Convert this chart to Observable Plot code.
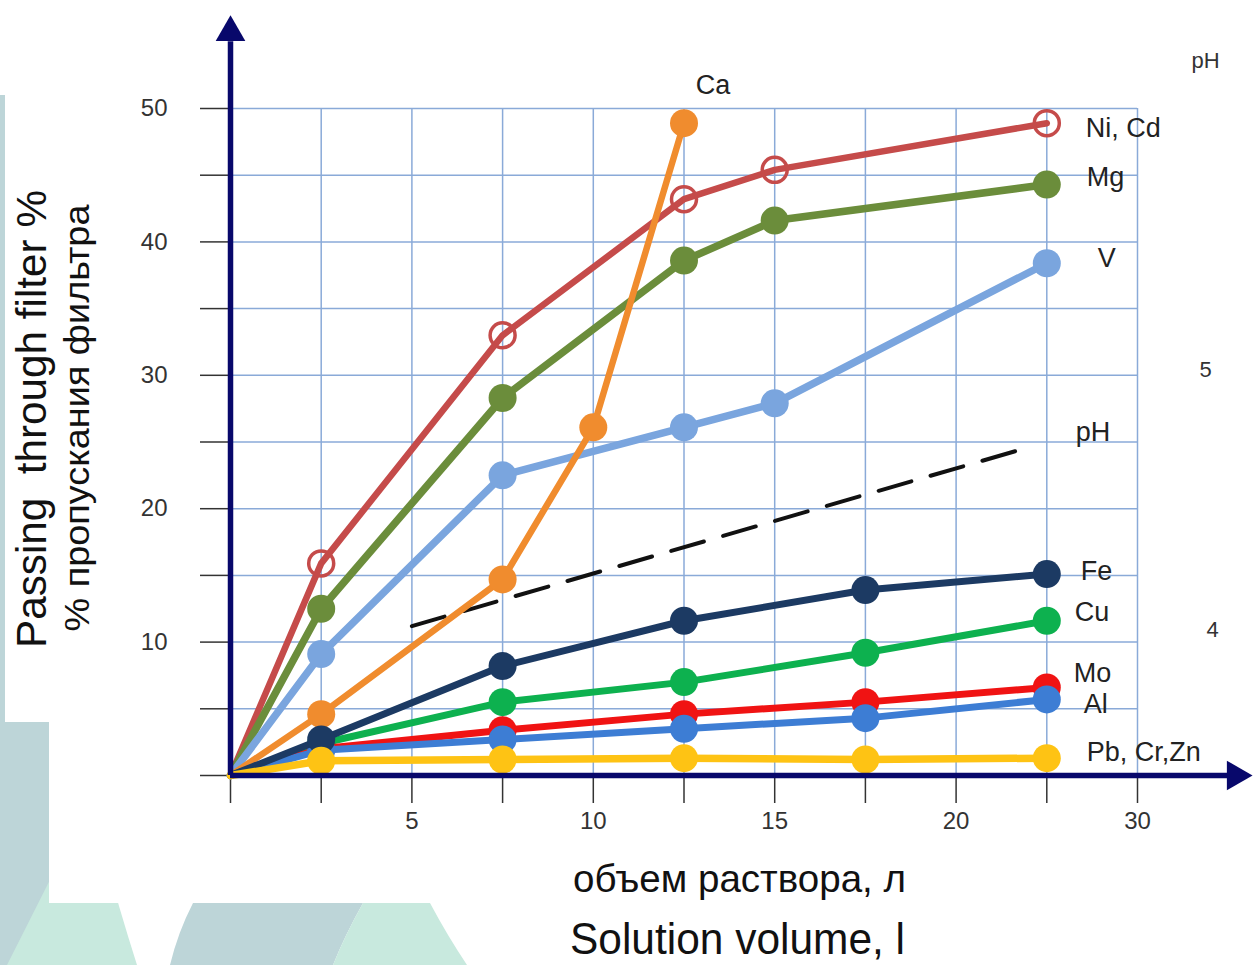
<!DOCTYPE html>
<html><head><meta charset="utf-8">
<script src="https://cdn.jsdelivr.net/npm/d3@7"></script>
<script src="https://cdn.jsdelivr.net/npm/@observablehq/plot@0.6"></script>
<style>
html,body{margin:0;padding:0;background:#fff;overflow:hidden}
#wrap{position:relative;width:1254px;height:965px;overflow:hidden}
#bg,#chart{position:absolute;left:0;top:0}
#bg text{font-family:"Liberation Sans",Arial,sans-serif;fill:#111;white-space:pre}
</style></head>
<body><div id="wrap">
<svg id="bg" width="1254" height="965">
 <rect width="1254" height="965" fill="#ffffff"/>
 <path d="M0,95 H20 V965 H0 Z" fill="#bdd5d8"/>
 <path d="M0,722 H60 V965 H0 Z" fill="#bdd5d8"/>
 <path d="M7,965 L62,856 L105,856 Q118,905 137,965 Z" fill="#c8e9de"/>
 <path d="M193,903 L363,903 Q345,935 333,965 L170,965 Q178,932 193,903 Z" fill="#bdd5d8"/>
 <path d="M363,903 L430,903 Q447,935 467,965 L333,965 Q345,935 363,903 Z" fill="#c8e9de"/>
 <rect x="5" y="0" width="1249" height="722" fill="#fff"/>
 <rect x="49" y="0" width="1205" height="903" fill="#fff"/>
 <text transform="translate(46,419) rotate(-90)" text-anchor="middle" font-size="43" textLength="458" lengthAdjust="spacingAndGlyphs">Passing  through filter %</text>
 <text transform="translate(89,418) rotate(-90)" text-anchor="middle" font-size="35" textLength="427" lengthAdjust="spacingAndGlyphs">% пропускания фильтра</text>
 <text x="739.5" y="892" text-anchor="middle" font-size="39" textLength="333" lengthAdjust="spacingAndGlyphs">объем раствора, л</text>
 <text x="737.5" y="954" text-anchor="middle" font-size="44" textLength="335" lengthAdjust="spacingAndGlyphs">Solution volume, l</text>
</svg>
<div id="chart"></div>
</div>
<script>
// ---- data (x in grid steps of the volume axis, y in % passing) ----
const volNiCd = [0, 1, 3, 5, 6, 9];
const passNiCd = [0, 15.9, 33.0, 43.2, 45.4, 48.9];
const volMg = [0, 1, 3, 5, 6, 9];
const passMg = [0, 12.5, 28.3, 38.6, 41.6, 44.3];
const volV = [0, 1, 3, 5, 6, 9];
const passV = [0, 9.1, 22.5, 26.1, 27.9, 38.4];
const volCa = [0, 1, 3, 4, 5];
const passCa = [0, 4.6, 14.7, 26.1, 48.9];
const volCu = [0, 1, 3, 5, 7, 9];
const passCu = [0, 2.4, 5.5, 7.0, 9.2, 11.6];
const volMo = [0, 1, 3, 5, 7, 9];
const passMo = [0, 2.0, 3.4, 4.6, 5.5, 6.6];
const volAl = [0, 1, 3, 5, 7, 9];
const passAl = [0, 1.9, 2.7, 3.5, 4.3, 5.7];
const volFe = [0, 1, 3, 5, 7, 9];
const passFe = [0, 2.7, 8.2, 11.6, 13.9, 15.1];
const volPb = [0, 1, 3, 5, 7, 9];
const passPb = [0, 1.1, 1.2, 1.3, 1.2, 1.3];
const volPH = [2, 8.8];
const passPH = [11.2, 24.6];

const xTickPositions = [2, 4, 6, 8, 10];
const xTickLabels = ["5", "10", "15", "20", "30"];
const yTickLabels = [10, 20, 30, 40, 50];
const phLabels = ["pH", "5", "4"];
const phLevels = [53.6, 30.4, 10.9];

// ---- styles ----
const series = [
  {name: "Ni, Cd", xs: volNiCd, ys: passNiCd, color: "#c54b4a", open: true, w: 6.5, dx: 39, dy: 5, anchor: "start"},
  {name: "Mg", xs: volMg, ys: passMg, color: "#6b8d3b", w: 7.5, dx: 40, dy: -7, anchor: "start"},
  {name: "V", xs: volV, ys: passV, color: "#7aa5de", w: 7.5, dx: 51, dy: -5, anchor: "start"},
  {name: "Ca", xs: volCa, ys: passCa, color: "#f08c2e", w: 6.5, dx: 29, dy: -38, anchor: "middle"},
  {name: "Cu", xs: volCu, ys: passCu, color: "#0db14f", w: 7, dx: 28, dy: -8, anchor: "start"},
  {name: "Mo", xs: volMo, ys: passMo, color: "#f01313", w: 7, dx: 27, dy: -14, anchor: "start"},
  {name: "Al", xs: volAl, ys: passAl, color: "#3d7dd4", w: 7, dx: 37, dy: 5, anchor: "start"},
  {name: "Fe", xs: volFe, ys: passFe, color: "#1c3a63", w: 7, dx: 34, dy: -3, anchor: "start"},
  {name: "Pb, Cr,Zn", xs: volPb, ys: passPb, color: "#fec314", w: 7.5, dx: 40, dy: -6, anchor: "start"}
];
const navy = "#08086b";
const gridColor = "#8aaad8";
const font = '"Liberation Sans", Arial, sans-serif';

const marks = [
  Plot.gridX({ticks: d3.range(1, 11), stroke: gridColor, strokeOpacity: 1, strokeWidth: 1.5}),
  Plot.gridY({ticks: d3.range(5, 55, 5), stroke: gridColor, strokeOpacity: 1, strokeWidth: 1.5}),
  Plot.axisX({ticks: d3.range(0, 11), tickSize: 28, tickPadding: 8, label: null,
    tickFormat: d => { const i = xTickPositions.indexOf(d); return i >= 0 ? xTickLabels[i] : ""; },
    stroke: "#333", strokeWidth: 1.5, fill: "#333", fontSize: 24}),
  Plot.axisY({ticks: d3.range(0, 55, 5), tickSize: 30, tickPadding: 33, label: null,
    tickFormat: d => yTickLabels.includes(d) ? String(d) : "",
    stroke: "#333", strokeWidth: 1.5, fill: "#333", fontSize: 24}),
  Plot.line(volPH.map((x, i) => ({x, y: passPH[i]})), {x: "x", y: "y", stroke: "#111", strokeWidth: 4, strokeDasharray: "34,20"}),
  Plot.text([{x: volPH[volPH.length - 1], y: passPH[passPH.length - 1]}], {x: "x", y: "y", text: () => "pH", dx: 47, dy: -15, textAnchor: "start", fontSize: 27, fill: "#222"})
];

for (const s of series) {
  const rows = s.xs.map((x, i) => ({x, y: s.ys[i]}));
  marks.push(Plot.line(rows, {x: "x", y: "y", stroke: s.color, strokeWidth: s.w}));
  const pts = rows.filter(d => d.x > 0);
  if (s.open) marks.push(Plot.dot(pts, {x: "x", y: "y", r: 12.5, stroke: s.color, strokeWidth: 3.5, fill: "none"}));
  else marks.push(Plot.dot(pts, {x: "x", y: "y", r: 14, fill: s.color}));
}
for (const s of series) {
  const last = {x: s.xs[s.xs.length - 1], y: s.ys[s.ys.length - 1]};
  marks.push(Plot.text([last], {x: "x", y: "y", text: () => s.name, dx: s.dx, dy: s.dy, textAnchor: s.anchor, fontSize: 27, fill: "#222"}));
}

// right-hand pH scale labels
marks.push(Plot.text(phLabels.map((t, i) => ({t, y: phLevels[i]})), {x: () => 10, y: "y", text: "t", fontSize: 22, fill: "#333"}));

// axes with arrowheads
marks.push(
  Plot.ruleY([0], {x1: 0, x2: 11.0, stroke: navy, strokeWidth: 5.5}),
  Plot.ruleX([0], {y1: 0, y2: 55.0, stroke: navy, strokeWidth: 5.5}),
  Plot.dot([{x: 0, y: 55.7}], {x: "x", y: "y", symbol: "triangle", r: 11, fill: navy}),
  Plot.dot([{x: 11.08, y: 0}], {x: "x", y: "y", symbol: "triangle", r: 11, fill: navy, rotate: 90})
);

const chart = Plot.plot({
  width: 1254, height: 965,
  marginLeft: 230, marginRight: 117, marginTop: 108, marginBottom: 190,
  x: {domain: [0, 10]},
  y: {domain: [0, 50]},
  style: {background: "transparent", fontFamily: font, overflow: "visible"},
  marks
});
// shift right-hand pH labels into place
chart.querySelectorAll("g[aria-label=text]").forEach(g => {
  g.querySelectorAll("text").forEach(t => {
    if (phLabels.includes(t.textContent) && g.getAttribute("font-size") === "22") {
      t.setAttribute("transform", (t.getAttribute("transform") || "") + (t.textContent === "4" ? " translate(75,0)" : " translate(68,0)"));
    }
  });
});
document.getElementById("chart").appendChild(chart);
</script>
</body></html>
